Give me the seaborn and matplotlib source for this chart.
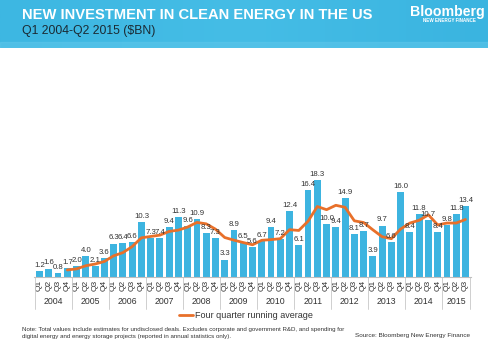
import numpy as np
import pandas as pd
import matplotlib
matplotlib.use("Agg")
import matplotlib.pyplot as plt
import matplotlib.transforms as mtransforms
from matplotlib.colors import LinearSegmentedColormap
import seaborn as sns

years = ["2004", "2005", "2006", "2007", "2008", "2009", "2010", "2011",
         "2012", "2013", "2014", "2015"]
quarters_per_year = [4, 4, 4, 4, 4, 4, 4, 4, 4, 4, 4, 3]
values = [1.2, 1.6, 0.8, 1.7,
          2.0, 4.0, 2.1, 3.6,
          6.3, 6.4, 6.6, 10.3,
          7.3, 7.4, 9.4, 11.3,
          9.6, 10.9, 8.3, 7.3,
          3.3, 8.9, 6.5, 5.6,
          6.7, 9.4, 7.2, 12.4,
          6.1, 16.4, 18.3, 10.0,
          9.4, 14.9, 8.1, 8.7,
          3.9, 9.7, 6.6, 16.0,
          8.4, 11.8, 10.7, 8.4,
          9.8, 11.8, 13.4]
# four quarter running average (starts at Q4 2004)
running_avg = [1.33, 1.53, 2.13, 2.45, 2.93, 4.0, 4.6, 5.73, 7.4,
               7.65, 7.9, 8.6, 8.85, 9.43, 10.3, 10.03, 9.03,
               7.45, 6.95, 6.5, 6.08, 6.93, 7.05, 7.23, 8.93,
               8.78, 10.53, 13.3, 12.7, 13.53, 13.15, 10.6, 10.28,
               8.9, 7.6, 7.23, 9.05, 10.18, 10.7, 11.73, 9.83,
               10.18, 10.18, 10.85]

quarter_labels = []
year_of = []
for y, n in zip(years, quarters_per_year):
    for q in range(n):
        quarter_labels.append(f"Q{q+1}")
        year_of.append(y)
keys = [f"{y} {q}" for y, q in zip(year_of, quarter_labels)]
df = pd.DataFrame({"key": keys, "value": values, "quarter": quarter_labels, "year": year_of})

sns.set_theme(style="white")
plt.rcParams["font.family"] = ["Liberation Sans", "DejaVu Sans"]

W, H = 488, 344
fig = plt.figure(figsize=(W / 100, H / 100), dpi=100)
fig.patch.set_facecolor("white")

# Banner
bax = fig.add_axes([0, 1 - 48 / H, 1, 48 / H])
grad = np.vstack([np.linspace(0, 1, 256)] * 2)
cmap = LinearSegmentedColormap.from_list("b", ["#3DB7E2", "#45BDE6", "#3AB4E0"])
bax.imshow(grad, aspect="auto", cmap=cmap, extent=[0, 1, 0, 1])
bax.axhspan(0, 0.12, color="#5CC6EA", alpha=0.6)
bax.set_xlim(0, 1); bax.set_ylim(0, 1)
bax.axis("off")
fig.text(22 / W, 1 - 15 / H, "NEW INVESTMENT IN CLEAN ENERGY IN THE US", color="white",
         fontsize=10.6, fontweight="bold", va="center", ha="left")
fig.text(22 / W, 1 - 31 / H, "Q1 2004-Q2 2015 ($BN)", color="#1b2a33",
         fontsize=8.8, va="center", ha="left")
fig.text(485 / W, 1 - 12 / H, "Bloomberg", color="white", fontsize=10.2,
         fontweight="bold", va="center", ha="right")
fig.text(476 / W, 1 - 21 / H, "NEW ENERGY FINANCE", color="white", fontsize=3.3,
         fontweight="bold", va="center", ha="right")

# Chart
bottom_px, top_px = 277, 171
ax = fig.add_axes([34 / W, 1 - bottom_px / H, (471 - 34) / W, (bottom_px - top_px) / H])
bar_color = "#3DB4E0"
sns.barplot(data=df, x="key", y="value", color=bar_color, width=0.74,
            saturation=1, ax=ax, edgecolor="none")
pos = np.arange(len(values))
sns.lineplot(x=pos[3:], y=running_avg, color="#E8702A", linewidth=2, ax=ax,
             label="Four quarter running average")
ax.set_xlim(-0.6, len(values) - 0.4)
ax.set_ylim(0, 20)
for s in ["top", "right", "left"]:
    ax.spines[s].set_visible(False)
ax.spines["bottom"].set_color("#bfbfbf")
ax.spines["bottom"].set_linewidth(0.8)
ax.set_yticks([])
ax.set_ylabel("")
ax.set_xlabel("")
ax.set_xticks(pos)
ax.set_xticklabels(quarter_labels, rotation=90, fontsize=6, color="#333333")
ax.tick_params(axis="x", length=0, pad=2)

for i, v in enumerate(values):
    ax.text(i, v + 0.4, f"{v:.1f}", ha="center", va="bottom", fontsize=5.6, color="#333333")

# year labels & separators
trans = mtransforms.blended_transform_factory(ax.transData, ax.transAxes)
start = 0
for y, n in zip(years, quarters_per_year):
    ax.text(start + (n - 1) / 2, -0.235, y, transform=trans, ha="center", va="center",
            fontsize=6.3, color="#333333", clip_on=False)
    if start > 0:
        ax.plot([start - 0.5, start - 0.5], [0, -0.3], transform=trans, color="#c8c8c8",
                linewidth=0.6, clip_on=False)
    start += n
ax.plot([start - 0.5, start - 0.5], [0, -0.3], transform=trans, color="#c8c8c8",
        linewidth=0.6, clip_on=False)
ax.plot([-0.5, -0.5], [0, -0.3], transform=trans, color="#c8c8c8",
        linewidth=0.6, clip_on=False)

leg = ax.legend(loc="center", bbox_to_anchor=(0.485, -0.36), frameon=False, fontsize=6.5,
                handlelength=1.6, handletextpad=0.2)
for t in leg.get_texts():
    t.set_color("#333333")

fig.text(22 / W, 1 - 329 / H,
         "Note: Total values include estimates for undisclosed deals. Excludes corporate and government R&D, and spending for",
         fontsize=4.45, color="#333333", va="center")
fig.text(22 / W, 1 - 336.5 / H,
         "digital energy and energy storage projects (reported in annual statistics only).",
         fontsize=4.45, color="#333333", va="center")
fig.text(470 / W, 1 - 336 / H, "Source: Bloomberg New Energy Finance",
         fontsize=4.6, color="#333333", va="center", ha="right")

fig.savefig("out.png", dpi=100)
